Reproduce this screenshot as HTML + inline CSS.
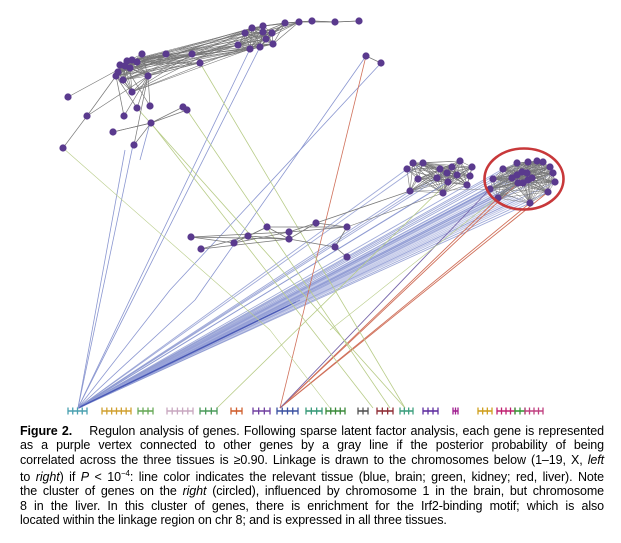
<!DOCTYPE html>
<html><head><meta charset="utf-8">
<style>
html,body{margin:0;padding:0;background:#fff;width:621px;height:543px;overflow:hidden}
svg{position:absolute;left:0;top:0}
#cap{position:absolute;left:20px;top:424px;width:584px;font-family:"Liberation Sans",sans-serif;font-size:12.5px;line-height:14.3px;color:#000;letter-spacing:-0.1px}
#cap div{text-align:justify;text-align-last:justify;white-space:nowrap;overflow:visible}
#cap div.l{text-align-last:left}
b{font-weight:bold}
</style></head><body>
<svg id="s" width="621" height="543" viewBox="0 0 621 543"></svg>
<div id="cap">
<div><b>Figure 2.</b>&nbsp;&nbsp;&nbsp;&nbsp;Regulon analysis of genes. Following sparse latent factor analysis, each gene is represented</div>
<div>as a purple vertex connected to other genes by a gray line if the posterior probability of being</div>
<div>correlated across the three tissues is ≥0.90. Linkage is drawn to the chromosomes below (1–19, X, <i>left</i></div>
<div>to <i>right</i>) if <i>P</i> &lt; 10<sup style="font-size:8px">−4</sup>: line color indicates the relevant tissue (blue, brain; green, kidney; red, liver). Note</div>
<div>the cluster of genes on the <i>right</i> (circled), influenced by chromosome 1 in the brain, but chromosome</div>
<div>8 in the liver. In this cluster of genes, there is enrichment for the Irf2-binding motif; which is also</div>
<div class="l">located within the linkage region on chr 8; and is expressed in all three tissues.</div>
</div>
<script>
var s=document.getElementById('s'),NS='http://www.w3.org/2000/svg';
function el(t,a){var e=document.createElementNS(NS,t);for(var k in a)e.setAttribute(k,a[k]);s.appendChild(e);return e}
function L(x1,y1,x2,y2,c,w,o){el('line',{x1:x1,y1:y1,x2:x2,y2:y2,stroke:c,'stroke-width':w||0.8,'stroke-opacity':o==null?1:o})}
var TL=[[68,97],[87,116],[63,148],[113,132],[134,145],[124,116],[137,108],[150,106],[151,123],[183,107],[187,110],[132,92],[148,76],[118,72],[123,80],[120,65],[127,61],[132,60],[137,62],[130,68],[142,54],[166,54],[192,54],[200,63],[238,45],[250,49],[260,47],[273,44],[266,39],[272,33],[263,32],[263,26],[252,28],[245,33],[285,23],[299,22],[312,21],[335,22],[359,21],[366,56],[381,63],[125,66],[116,76]];
var RC=[[503,169],[517,163],[528,162],[537,161],[543,162],[550,167],[553,173],[555,182],[548,192],[530,203],[498,198],[490,189],[493,179],[517,175],[522,172],[527,173],[528,180],[518,183],[523,183],[512,178],[532,178]];
var MC=[[407,169],[413,163],[423,163],[440,169],[452,167],[460,161],[472,167],[470,176],[467,185],[457,175],[447,173],[437,178],[448,182],[418,179],[410,191],[443,193]];
var LC=[[191,237],[201,249],[234,243],[248,236],[267,227],[289,232],[289,239],[316,223],[347,227],[335,247],[347,257]];
var BY=411;
var blue='#5566bb',bl2='#8a96d0',grn='#b8cc88',red='#d0705a';
RC.forEach(function(p,i){L(p[0],p[1],78+(i%3)*0.5,BY-3,bl2,0.9,0.8)});
MC.forEach(function(p,i){if(i%2==0)L(p[0],p[1],78,BY-3,bl2,0.9,0.8)});
for(var i=0;i<16;i++){L(488+i*2.5,188+i*0.8,78,BY-3,'#9aa4d8',1.1,0.6)}
for(var i=0;i<6;i++){L(78,BY-3,300-i*4,300+i*2,'#4a5ab8',1.2,0.5)}
L(125,150,78,BY-3,bl2,0.8);L(133,145,78,BY-3,bl2,0.8);L(260,47,78,BY-3,bl2,0.8);L(250,49,78,BY-3,bl2,0.8);L(150,123,140,160,bl2,0.8);
L(366,56,195,300,bl2,0.8);L(381,63,170,290,bl2,0.8);L(195,300,78,BY-3,bl2,0.8);L(170,290,78,BY-3,bl2,0.8);
L(366,56,280,BY-3,red,0.8);
[[530,203],[498,198],[548,192],[518,183]].forEach(function(p){L(p[0],p[1],280,BY-3,red,0.9)});
L(490,189,280,BY-3,'#7766aa',0.9);
L(200,63,405,BY-3,grn,0.8);L(151,123,373,BY-3,grn,0.8);L(137,108,405,BY-3,grn,0.8);L(187,110,390,BY-3,grn,0.8);
L(217,BY-3,448,182,grn,0.8);L(63,148,270,330,grn,0.6);L(270,330,330,BY-3,grn,0.6);
L(500,195,330,330,grn,0.6);
var g='#777';
function dense(A,n,th,w){for(var i=0;i<A.length;i++)for(var j=i+1;j<A.length;j++){var dx=A[i][0]-A[j][0],dy=A[i][1]-A[j][1];if(dx*dx+dy*dy<th*th&&((i*7+j*3)%n==0))L(A[i][0],A[i][1],A[j][0],A[j][1],g,w||0.6)}}
dense(RC,1,80,0.5);dense(MC,1,50,0.6);
var core=[12,13,14,15,16,17,18,19,41,42,11];
var far=[20,21,22,23,24,25,26,27,28,29,30,31,32,33];
core.forEach(function(a,i){far.forEach(function(b,j){if((i+j)%3==0)L(TL[a][0],TL[a][1],TL[b][0],TL[b][1],g,0.6)})});
dense(core.map(function(k){return TL[k]}),1,30,0.6);
var far2=[24,25,26,27,28,29,30,31,32,33,34,35,36,37,38];dense(far2.map(function(k){return TL[k]}),1,40,0.7);
[[0,41],[1,42],[1,12],[2,1],[3,8],[4,8],[5,12],[6,12],[7,12],[8,3],[9,8],[10,8],[11,13],[39,40],[7,41],[6,42],[37,38],[36,37],[35,36],[34,35],[5,42],[4,12]].forEach(function(e){L(TL[e[0]][0],TL[e[0]][1],TL[e[1]][0],TL[e[1]][1],g,0.7)});
[[0,2],[0,5],[0,6],[1,3],[1,6],[2,5],[3,4],[3,6],[4,8],[4,6],[5,7],[5,8],[6,9],[7,8],[8,9],[9,10],[2,4],[6,7],[5,6]].forEach(function(e){L(LC[e[0]][0],LC[e[0]][1],LC[e[1]][0],LC[e[1]][1],g,0.8)});
L(316,223,410,191,g,0.8);L(347,227,443,193,g,0.6);L(410,191,490,189,g,0.4);
[TL,RC,MC,LC].forEach(function(A){A.forEach(function(p){el('circle',{cx:p[0],cy:p[1],r:3.6,fill:'#5a3a8e'})})});
el('ellipse',{cx:524,cy:179,rx:39.5,ry:30.5,fill:'none',stroke:'#c8383a','stroke-width':2.6});
var segs=[[68,87,'#4aa0b0'],[102,131,'#d0a030'],[138,153,'#6aaa5a'],[167,193,'#c8a8c0'],[200,217,'#4a9a5a'],[231,242,'#d06030'],[253,270,'#7040a0'],[277,298,'#3a50a0'],[306,322,'#3a9a7a'],[326,345,'#3a8a3a'],[358,368,'#555'],[377,393,'#903038'],[400,413,'#40a080'],[423,438,'#6030a0'],[453,458,'#a02090'],[478,492,'#d0a020'],[497,515,'#c02070'],[515,525,'#3a9a3a'],[525,543,'#c04080']];
segs.forEach(function(q,i){L(q[0],BY,q[1],BY,q[2],1.6);var n=Math.max(2,Math.round((q[1]-q[0])/5));for(var k=0;k<=n;k++){var x=q[0]+(q[1]-q[0])*k/n;L(x,BY-3.5,x,BY+3.5,q[2],1.3)}});
</script>
</body></html>
